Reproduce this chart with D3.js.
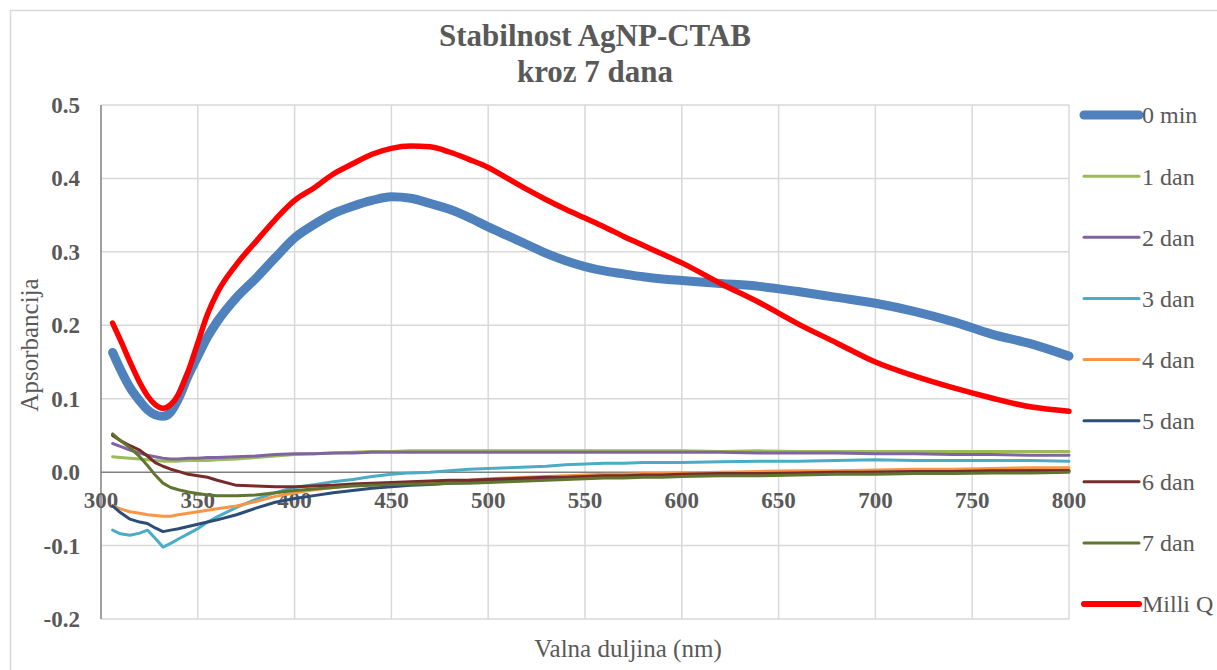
<!DOCTYPE html>
<html>
<head>
    <meta charset="utf-8">
    <title>Stabilnost AgNP-CTAB</title>
    <script src="https://d3js.org/d3.v7.min.js"></script>
    <style>
        body {
            margin: 0;
            padding: 0;
            background: white;
        }
        svg text {
            font-family: "Liberation Serif", "DejaVu Serif", "Times New Roman", serif;
        }
        .grid line {
            stroke: #d9d9d9;
            stroke-width: 1.5;
        }
        .tick-label {
            font-size: 23px;
            font-weight: bold;
            fill: #595959;
        }
        .axis-title {
            font-size: 25px;
            fill: #595959;
        }
        .chart-title {
            font-size: 31px;
            font-weight: bold;
            fill: #595959;
            text-anchor: middle;
        }
        .legend-label {
            font-size: 24px;
            fill: #595959;
        }
        .series {
            fill: none;
            stroke-linejoin: round;
            stroke-linecap: round;
        }
    </style>
</head>
<body>
    <svg id="chart" width="1217" height="670" font-family="Liberation Serif, serif"></svg>
    <script>
        // wavelengths (nm) shared by all series
        const wavelengths = [306, 310, 315, 320, 324, 328, 332, 336, 340, 345, 350, 355, 360, 370, 380, 390,
            400, 410, 420, 430, 440, 450, 460, 470, 480, 490, 500, 510, 520, 530, 540, 550, 560, 570,
            580, 590, 600, 620, 640, 660, 680, 700, 720, 740, 760, 780, 800];

        const seriesNames = ['0 min', '1 dan', '2 dan', '3 dan', '4 dan', '5 dan', '6 dan', '7 dan', 'Milli Q'];

        const min0 = [0.163, 0.140, 0.115, 0.097, 0.085, 0.078, 0.076, 0.082, 0.100, 0.131, 0.158, 0.184, 0.205, 0.238, 0.264, 0.292,
            0.319, 0.337, 0.352, 0.362, 0.370, 0.375, 0.373, 0.366, 0.358, 0.347, 0.334, 0.322, 0.310, 0.298, 0.288, 0.280, 0.274, 0.270,
            0.266, 0.263, 0.261, 0.257, 0.253, 0.246, 0.238, 0.230, 0.219, 0.205, 0.188, 0.175, 0.158];
        const dan1 = [0.021, 0.020, 0.019, 0.018, 0.017, 0.016, 0.015, 0.015, 0.015, 0.016, 0.016, 0.016, 0.017, 0.018, 0.020, 0.022,
            0.024, 0.025, 0.026, 0.027, 0.028, 0.028, 0.029, 0.029, 0.029, 0.029, 0.029, 0.029, 0.029, 0.029, 0.029, 0.029, 0.029, 0.029,
            0.029, 0.029, 0.029, 0.028, 0.029, 0.028, 0.028, 0.028, 0.028, 0.028, 0.028, 0.028, 0.028];
        const dan2 = [0.039, 0.035, 0.030, 0.026, 0.023, 0.021, 0.019, 0.018, 0.018, 0.019, 0.019, 0.020, 0.020, 0.021, 0.022, 0.024,
            0.025, 0.025, 0.026, 0.026, 0.027, 0.027, 0.027, 0.027, 0.027, 0.027, 0.027, 0.027, 0.027, 0.027, 0.027, 0.027, 0.027, 0.027,
            0.027, 0.027, 0.027, 0.027, 0.026, 0.026, 0.026, 0.025, 0.025, 0.024, 0.024, 0.023, 0.023];
        const dan3 = [-0.079, -0.084, -0.086, -0.083, -0.079, -0.090, -0.102, -0.097, -0.091, -0.084, -0.077, -0.068, -0.061, -0.048, -0.037, -0.028,
            -0.021, -0.017, -0.013, -0.010, -0.006, -0.003, -0.001, 0.000, 0.002, 0.004, 0.005, 0.006, 0.007, 0.008, 0.010, 0.011, 0.012, 0.012,
            0.013, 0.013, 0.013, 0.014, 0.015, 0.015, 0.016, 0.017, 0.016, 0.016, 0.016, 0.016, 0.015];
        const dan4 = [-0.046, -0.050, -0.054, -0.056, -0.058, -0.059, -0.060, -0.060, -0.058, -0.056, -0.054, -0.052, -0.050, -0.046, -0.040, -0.033,
            -0.028, -0.024, -0.021, -0.018, -0.016, -0.015, -0.014, -0.013, -0.012, -0.011, -0.009, -0.008, -0.007, -0.006, -0.005, -0.004, -0.003, -0.003,
            -0.002, -0.002, -0.001, 0.000, 0.001, 0.002, 0.002, 0.003, 0.004, 0.004, 0.005, 0.006, 0.006];
        const dan5 = [-0.046, -0.055, -0.064, -0.068, -0.070, -0.076, -0.081, -0.079, -0.077, -0.074, -0.071, -0.068, -0.065, -0.058, -0.049, -0.041,
            -0.036, -0.032, -0.028, -0.025, -0.022, -0.020, -0.018, -0.017, -0.015, -0.014, -0.012, -0.011, -0.010, -0.009, -0.008, -0.007, -0.006, -0.006,
            -0.005, -0.005, -0.004, -0.003, -0.003, -0.002, -0.001, 0.000, 0.000, 0.001, 0.001, 0.002, 0.002];
        const dan6 = [0.050, 0.043, 0.036, 0.030, 0.022, 0.013, 0.008, 0.004, 0.001, -0.003, -0.005, -0.007, -0.011, -0.018, -0.019, -0.020,
            -0.020, -0.019, -0.018, -0.016, -0.015, -0.014, -0.013, -0.012, -0.011, -0.011, -0.010, -0.009, -0.008, -0.007, -0.007, -0.006, -0.005, -0.005,
            -0.004, -0.004, -0.003, -0.002, -0.002, -0.001, 0.000, 0.000, 0.001, 0.001, 0.002, 0.002, 0.002];
        const dan7 = [0.052, 0.043, 0.033, 0.021, 0.009, -0.004, -0.015, -0.021, -0.024, -0.027, -0.029, -0.031, -0.032, -0.032, -0.031, -0.028,
            -0.025, -0.023, -0.021, -0.019, -0.018, -0.017, -0.016, -0.016, -0.015, -0.015, -0.014, -0.013, -0.012, -0.011, -0.010, -0.009, -0.008, -0.008,
            -0.007, -0.007, -0.006, -0.005, -0.005, -0.004, -0.003, -0.003, -0.002, -0.002, -0.001, -0.001, 0.000];
        const milliQ = [0.203, 0.180, 0.150, 0.122, 0.104, 0.092, 0.087, 0.092, 0.106, 0.137, 0.176, 0.215, 0.244, 0.283, 0.314, 0.344,
            0.370, 0.387, 0.406, 0.420, 0.433, 0.441, 0.444, 0.443, 0.436, 0.426, 0.415, 0.400, 0.385, 0.371, 0.358, 0.346, 0.334, 0.321,
            0.309, 0.297, 0.285, 0.257, 0.231, 0.202, 0.176, 0.150, 0.131, 0.115, 0.101, 0.089, 0.083];

        const xTicks = [300, 350, 400, 450, 500, 550, 600, 650, 700, 750, 800];
        const yTicks = [-0.2, -0.1, 0.0, 0.1, 0.2, 0.3, 0.4, 0.5];

        const colors = ['#4f81bd', '#9bbb59', '#8064a2', '#4bacc6', '#f79646', '#2c4d75', '#772c2a', '#5f7530', '#ff0000'];
        const widths = [9, 3, 3, 3, 3, 3, 3, 3, 5.5];
        const allValues = [min0, dan1, dan2, dan3, dan4, dan5, dan6, dan7, milliQ];

        const svg = d3.select('#chart');
        const plot = { left: 101, right: 1069, top: 105, bottom: 619 };

        const x = d3.scaleLinear().domain([300, 800]).range([plot.left, plot.right]);
        const y = d3.scaleLinear().domain([-0.2, 0.5]).range([plot.bottom, plot.top]);

        // chart border
        svg.append('rect')
            .attr('x', 10.5).attr('y', 10.5)
            .attr('width', 1230).attr('height', 680)
            .attr('fill', 'none')
            .attr('stroke', '#d9d9d9')
            .attr('stroke-width', 1.5);

        // title
        svg.append('text').attr('class', 'chart-title')
            .attr('x', 595).attr('y', 46).text('Stabilnost AgNP-CTAB');
        svg.append('text').attr('class', 'chart-title')
            .attr('x', 595).attr('y', 82).text('kroz 7 dana');

        // gridlines
        const grid = svg.append('g').attr('class', 'grid');
        grid.selectAll('.gy')
            .data(yTicks.filter(d => d !== 0))
            .join('line')
            .attr('x1', plot.left).attr('x2', plot.right)
            .attr('y1', d => y(d)).attr('y2', d => y(d));
        grid.selectAll('.gx')
            .data(xTicks.slice(1))
            .join('line')
            .attr('class', 'gx')
            .attr('y1', plot.top).attr('y2', plot.bottom)
            .attr('x1', d => x(d)).attr('x2', d => x(d));

        // axes lines
        svg.append('line')
            .attr('x1', plot.left).attr('x2', plot.left)
            .attr('y1', plot.top).attr('y2', plot.bottom)
            .attr('stroke', '#7f7f7f').attr('stroke-width', 1.5);
        svg.append('line')
            .attr('x1', plot.left).attr('x2', plot.right)
            .attr('y1', y(0)).attr('y2', y(0))
            .attr('stroke', '#7f7f7f').attr('stroke-width', 1.5);

        // tick labels (plain hyphen for negatives, like the original)
        const fmt = d => d3.format('.1f')(d).replace('\u2212', '-');
        svg.selectAll('.ylab')
            .data(yTicks)
            .join('text')
            .attr('class', 'tick-label')
            .attr('x', 80)
            .attr('y', d => y(d))
            .attr('dy', '0.35em')
            .attr('text-anchor', 'end')
            .text(fmt);

        svg.selectAll('.xlab')
            .data(xTicks)
            .join('text')
            .attr('class', 'tick-label')
            .attr('x', d => x(d))
            .attr('y', y(0) + 28)
            .attr('dy', '0.35em')
            .attr('text-anchor', 'middle')
            .text(d => d);

        // axis titles
        svg.append('text').attr('class', 'axis-title')
            .attr('transform', 'translate(38,345) rotate(-90)')
            .attr('text-anchor', 'middle')
            .text('Apsorbancija');
        svg.append('text').attr('class', 'axis-title')
            .attr('x', 628).attr('y', 657)
            .attr('text-anchor', 'middle')
            .text('Valna duljina (nm)');

        // series
        const line = d3.line()
            .x((d, i) => x(wavelengths[i]))
            .y(d => y(d));

        const lines = svg.append('g');
        allValues.forEach((vals, k) => {
            lines.append('path')
                .datum(vals)
                .attr('class', 'series')
                .attr('stroke', colors[k])
                .attr('stroke-width', widths[k])
                .attr('d', line.curve(k === 0 || k === 8 ? d3.curveMonotoneX : d3.curveLinear));
        });

        // legend
        const legend = svg.append('g');
        const ly = d3.scaleLinear().domain([0, 8]).range([115, 604]);
        seriesNames.forEach((name, k) => {
            legend.append('line')
                .attr('x1', 1084).attr('x2', 1139)
                .attr('y1', ly(k)).attr('y2', ly(k))
                .attr('stroke', colors[k])
                .attr('stroke-width', k === 0 ? 9 : (k === 8 ? 6 : 3))
                .attr('stroke-linecap', 'round');
            legend.append('text')
                .attr('class', 'legend-label')
                .attr('x', 1142)
                .attr('y', ly(k))
                .attr('dy', '0.35em')
                .text(name);
        });
    </script>
</body>
</html>
